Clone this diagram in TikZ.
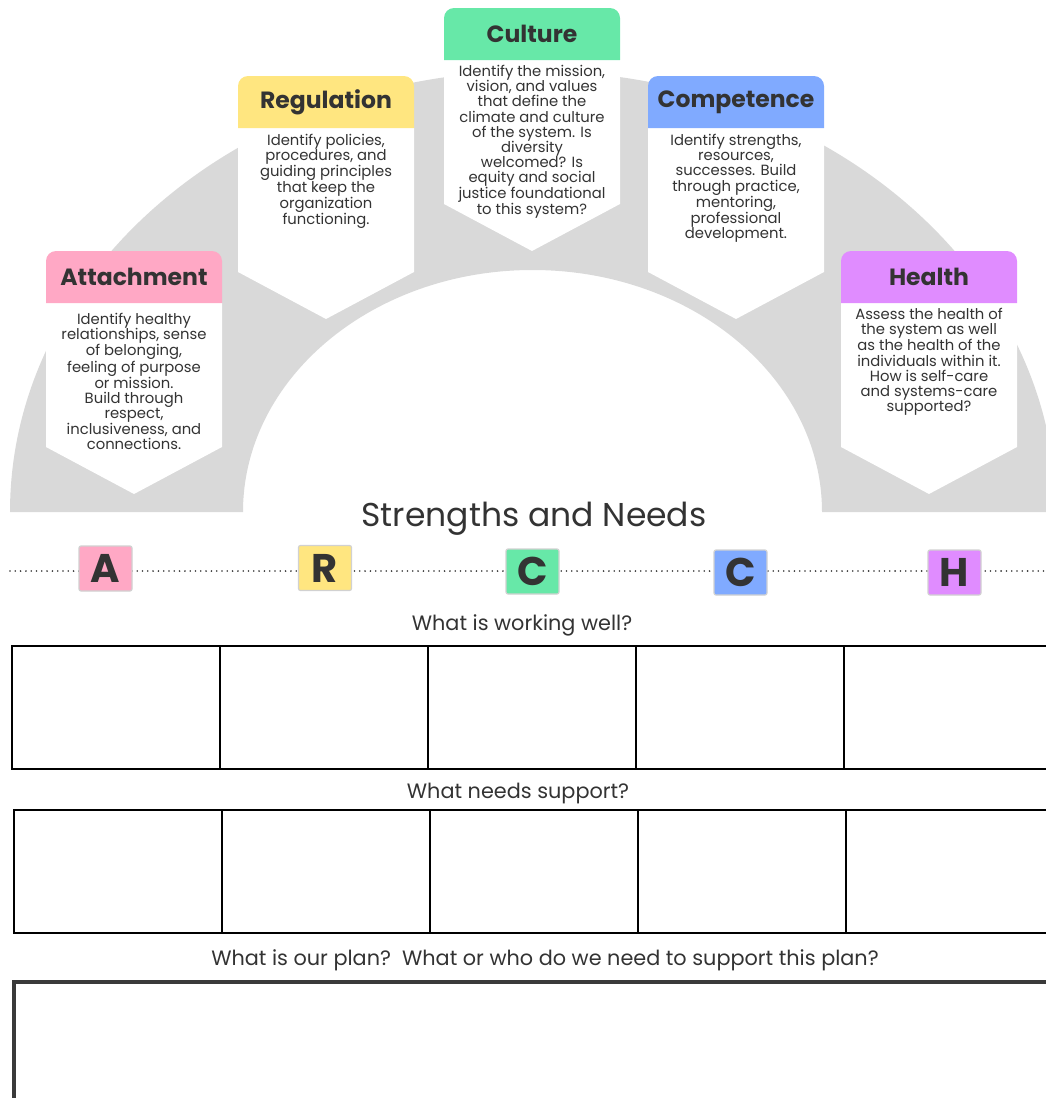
\documentclass[tikz,border=0pt]{standalone}
\usepackage{fontspec}
\setmainfont{Poppins}
\usetikzlibrary{positioning}

\definecolor{attachpink}{HTML}{FFA8C5}
\definecolor{regyellow}{HTML}{FFE680}
\definecolor{culturegreen}{HTML}{67E8A8}
\definecolor{compblue}{HTML}{80AAFF}
\definecolor{healthviolet}{HTML}{E08CFF}
\definecolor{arcgrey}{HTML}{D9D9D9}
\definecolor{plangrey}{HTML}{3A3A3A}
\definecolor{ink}{HTML}{333333}

\begin{document}
\begin{tikzpicture}[x=1pt, y=-1pt,
    head/.style={minimum width=176pt, minimum height=52pt, inner sep=0pt, text=ink, font=\bfseries\fontsize{23.5}{26}\selectfont},
    blurb/.style={inner sep=0pt, align=center, text=ink, font=\fontsize{14.8}{15.1}\selectfont},
    letter/.style={draw=black!18, line width=1.2pt, rounded corners=2pt, minimum width=53pt, minimum height=45pt, inner sep=0pt, text=ink, font=\bfseries\fontsize{40}{40}\selectfont},
    question/.style={text=ink, font=\fontsize{20.8}{24}\selectfont, anchor=base},
    cell/.style={draw=black, line width=2.8pt, minimum width=208pt, minimum height=123pt, inner sep=0pt, outer sep=0pt, anchor=north west},
    dots/.style={draw=ink, line width=1.8pt, dash pattern=on 0pt off 5.3pt, line cap=round}
]
\clip (0,0) rectangle (1046,1098);

% Grey arch behind the pillars
\fill[arcgrey] (10,512) arc[start angle=180, end angle=360, x radius=523, y radius=441]
    -- (822,512) arc[start angle=0, end angle=-180, x radius=289.5, y radius=242] -- cycle;

% Pillars: coloured cap over a white pointed panel
\foreach \cx/\ty/\col in {134/251/attachpink, 326/76/regyellow, 532/8/culturegreen, 736/76/compblue, 929/251/healthviolet}{
    \fill[white] (\cx-88,\ty+52) -- (\cx+88,\ty+52) -- (\cx+88,\ty+196) -- (\cx,\ty+243) -- (\cx-88,\ty+196) -- cycle;
    \fill[\col] (\cx-88,\ty+52) [rounded corners=10pt] -- (\cx-88,\ty) -- (\cx+88,\ty) [sharp corners] -- (\cx+88,\ty+52) -- cycle;
}

% Pillar titles
\node[head] (att) at (134,277) {Attachment};
\node[head] (reg) at (326,102) {Regulation};
\node[head] (cul) at (532,34) {Culture};
\node[head] (com) at (736,102) {Competence};
\node[head] (hea) at (929,277) {Health};

% Pillar texts
\node[blurb, below=10pt of att] (att-text) {Identify healthy\\relationships, sense\\of belonging,\\feeling of purpose\\or mission.\\Build through\\respect,\\inclusiveness, and\\connections.};
\node[blurb, below=6pt of reg] (reg-text) {Identify policies,\\procedures, and\\guiding principles\\that keep the\\organization\\functioning.};
\node[blurb, below=5pt of cul] (cul-text) {Identify the mission,\\vision, and values\\that define the\\climate and culture\\of the system. Is\\diversity\\welcomed? Is\\equity and social\\justice foundational\\to this system?};
\node[blurb, below=6pt of com] (com-text) {Identify strengths,\\resources,\\successes. Build\\through practice,\\mentoring,\\professional\\development.};
\node[blurb, below=5pt of hea] (hea-text) {Assess the health of\\the system as well\\as the health of the\\individuals within it.\\How is self-care\\and systems-care\\supported?};

\node[font=\fontsize{33}{36}\selectfont, text=ink, anchor=base] (title) at (534,526) {Strengths and Needs};

% Dotted line with the letters
\coordinate (dots-w) at (10,571);
\coordinate (dots-e) at (1046,571);
\draw[dots] (dots-w) -- (dots-e);
\node[letter, fill=attachpink] (lA) at (105.5,568.5) {A};
\node[letter, fill=regyellow] (lR) at (325,568) {R};
\node[letter, fill=culturegreen] (lC1) at (532.5,571.5) {C};
\node[letter, fill=compblue] (lC2) at (740.5,572.5) {C};
\node[letter, fill=healthviolet] (lH) at (954.5,572.5) {H};

% Row 1
\node[question] (q-well) at (522,630) {What is working well?};
\foreach \i in {0,...,4}
    \node[cell] (well-\i) at (12+208*\i,646) {};

% Row 2
\node[question] (q-need) at (518,798) {What needs support?};
\foreach \i in {0,...,4}
    \node[cell] (need-\i) at (14+208*\i,810) {};

% Plan
\node[question] (q-plan) at (545,965) {What is our plan?\ \ What or who do we need to support this plan?};
\node[draw=plangrey, line width=3.5pt, inner sep=0pt, outer sep=0pt, anchor=north west, minimum width=1100pt, minimum height=200pt] (plan) at (14,982) {};
\end{tikzpicture}
\end{document}
